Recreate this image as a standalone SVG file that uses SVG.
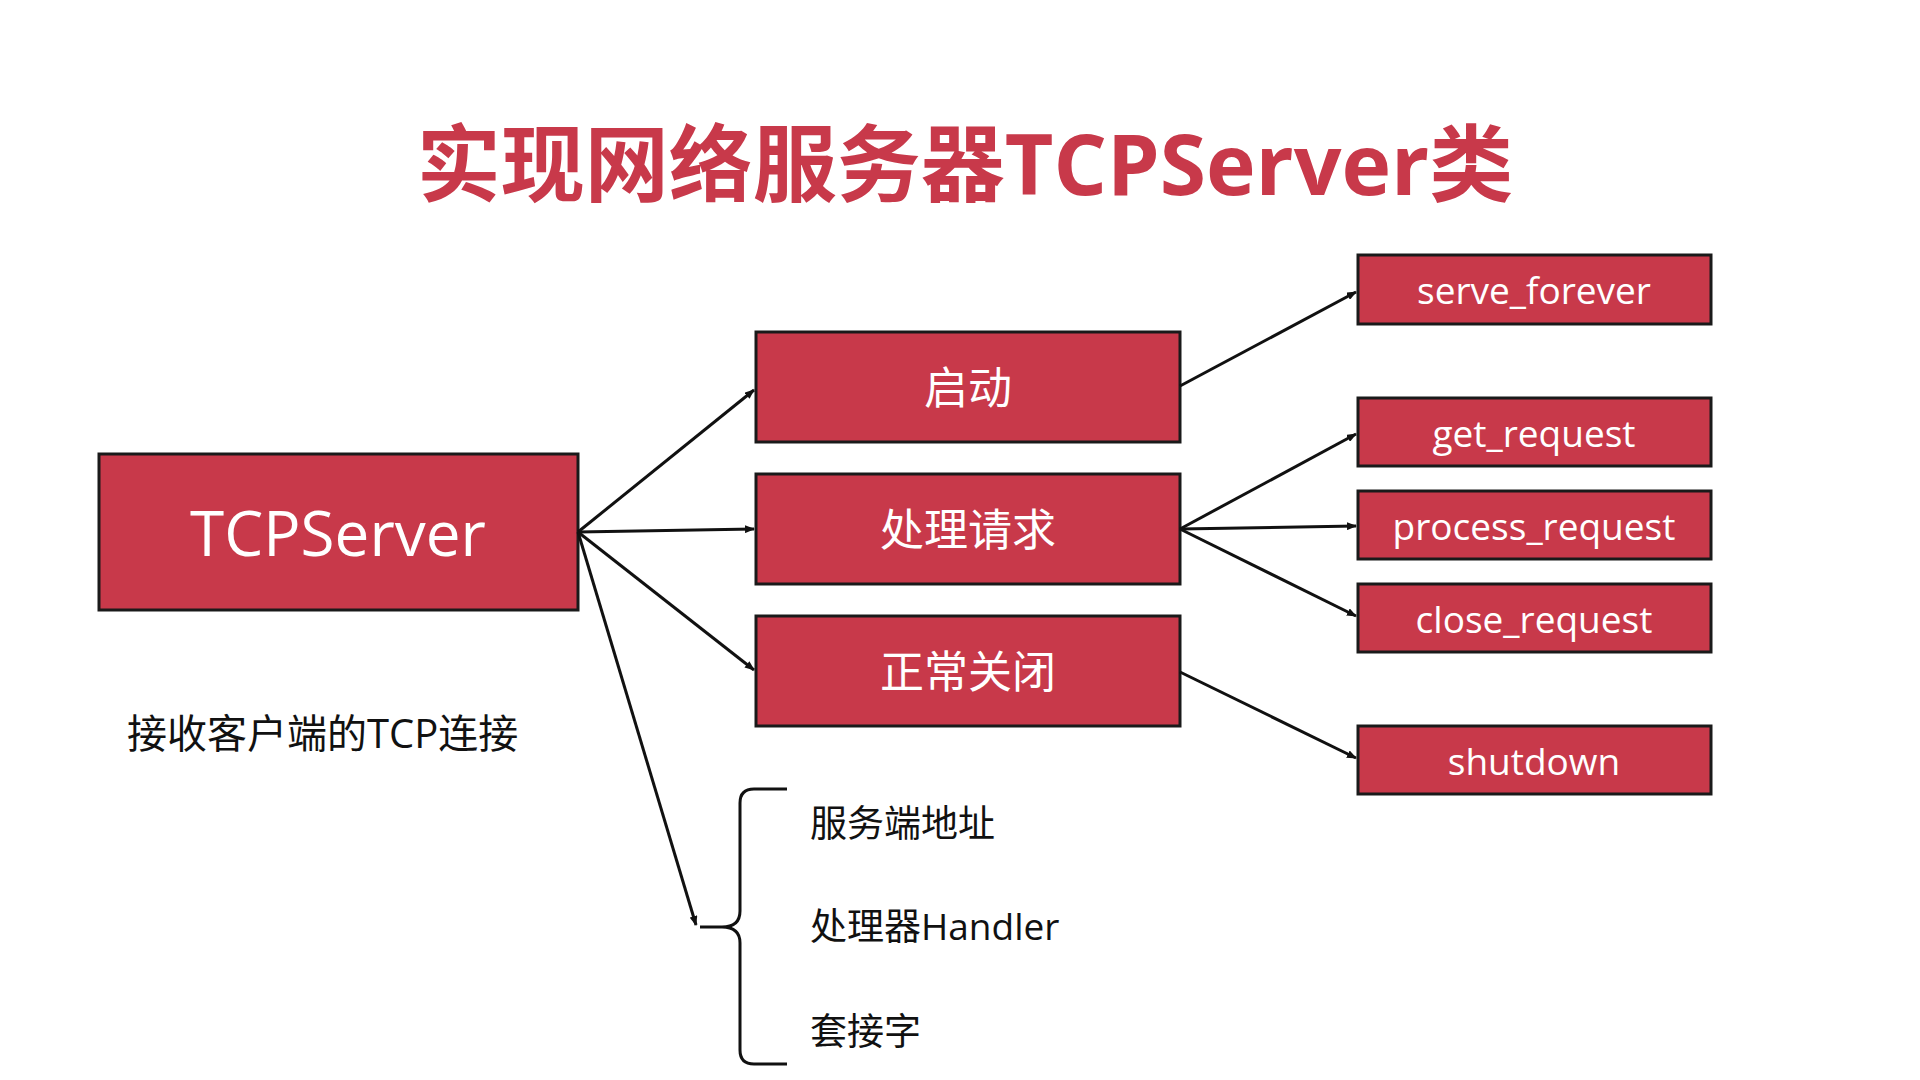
<svg xmlns="http://www.w3.org/2000/svg" width="1920" height="1080" viewBox="0 0 1920 1080">
<defs>
<marker id="ah" markerWidth="10" markerHeight="8" refX="9" refY="4" orient="auto" markerUnits="userSpaceOnUse"><path d="M0,0 L10,4 L0,8 z" fill="#111"/></marker>
<style>
.box{fill:#C8394A;stroke:#1a1a1a;stroke-width:3}
.t{font-family:"Open Sans","Noto Sans CJK SC",sans-serif;fill:#fff;text-anchor:middle;dominant-baseline:central}
.k{font-family:"Open Sans","Noto Sans CJK SC",sans-serif;fill:#111}
.c line{stroke:#111;stroke-width:3;marker-end:url(#ah)}
</style>
</defs>
<rect width="1920" height="1080" fill="#fff"/>
<text x="965" y="195" text-anchor="middle" font-family="'Open Sans','Noto Sans CJK SC',sans-serif" font-weight="bold" font-size="84" fill="#C8394A">实现网络服务器TCPServer类</text>
<g id="tcpserver"><rect class="box" x="99" y="454" width="479" height="156"/><text class="t" x="338" y="532" font-size="62">TCPServer</text></g>
<g id="start"><rect class="box" x="756" y="332" width="424" height="110"/><text class="t" x="968" y="387" font-size="44">启动</text></g>
<g id="handle"><rect class="box" x="756" y="474" width="424" height="110"/><text class="t" x="968" y="529" font-size="44">处理请求</text></g>
<g id="close"><rect class="box" x="756" y="616" width="424" height="110"/><text class="t" x="968" y="671" font-size="44">正常关闭</text></g>
<g id="serve_forever"><rect class="box" x="1358" y="255" width="353" height="69"/><text class="t" x="1534" y="289" font-size="37">serve_forever</text></g>
<g id="get_request"><rect class="box" x="1358" y="398" width="353" height="68"/><text class="t" x="1534" y="432" font-size="37">get_request</text></g>
<g id="process_request"><rect class="box" x="1358" y="491" width="353" height="68"/><text class="t" x="1534" y="525" font-size="37">process_request</text></g>
<g id="close_request"><rect class="box" x="1358" y="584" width="353" height="68"/><text class="t" x="1534" y="618" font-size="37">close_request</text></g>
<g id="shutdown"><rect class="box" x="1358" y="726" width="353" height="68"/><text class="t" x="1534" y="760" font-size="37">shutdown</text></g>
<g id="caption"><text class="k" x="127" y="748" font-size="40">接收客户端的TCP连接</text></g>
<g id="attrs">
<path d="M787,789 H754 Q740,789 740,803 V911 Q740,927 722,927 H700 M722,927 Q740,927 740,943 V1050 Q740,1064 754,1064 H787" fill="none" stroke="#111" stroke-width="3"/>
<text class="k" x="810" y="837" font-size="37">服务端地址</text>
<text class="k" x="810" y="940" font-size="37">处理器Handler</text>
<text class="k" x="810" y="1045" font-size="37">套接字</text>
</g>
<g id="connectors" class="c">
<line x1="578" y1="532" x2="754" y2="390"/>
<line x1="578" y1="532" x2="754" y2="529"/>
<line x1="578" y1="532" x2="754" y2="670"/>
<line x1="578" y1="532" x2="696" y2="925"/>
<line x1="1180" y1="386" x2="1356" y2="292"/>
<line x1="1180" y1="529" x2="1356" y2="434"/>
<line x1="1180" y1="529" x2="1356" y2="526"/>
<line x1="1180" y1="529" x2="1356" y2="616"/>
<line x1="1180" y1="672" x2="1356" y2="758"/>
</g>
</svg>
